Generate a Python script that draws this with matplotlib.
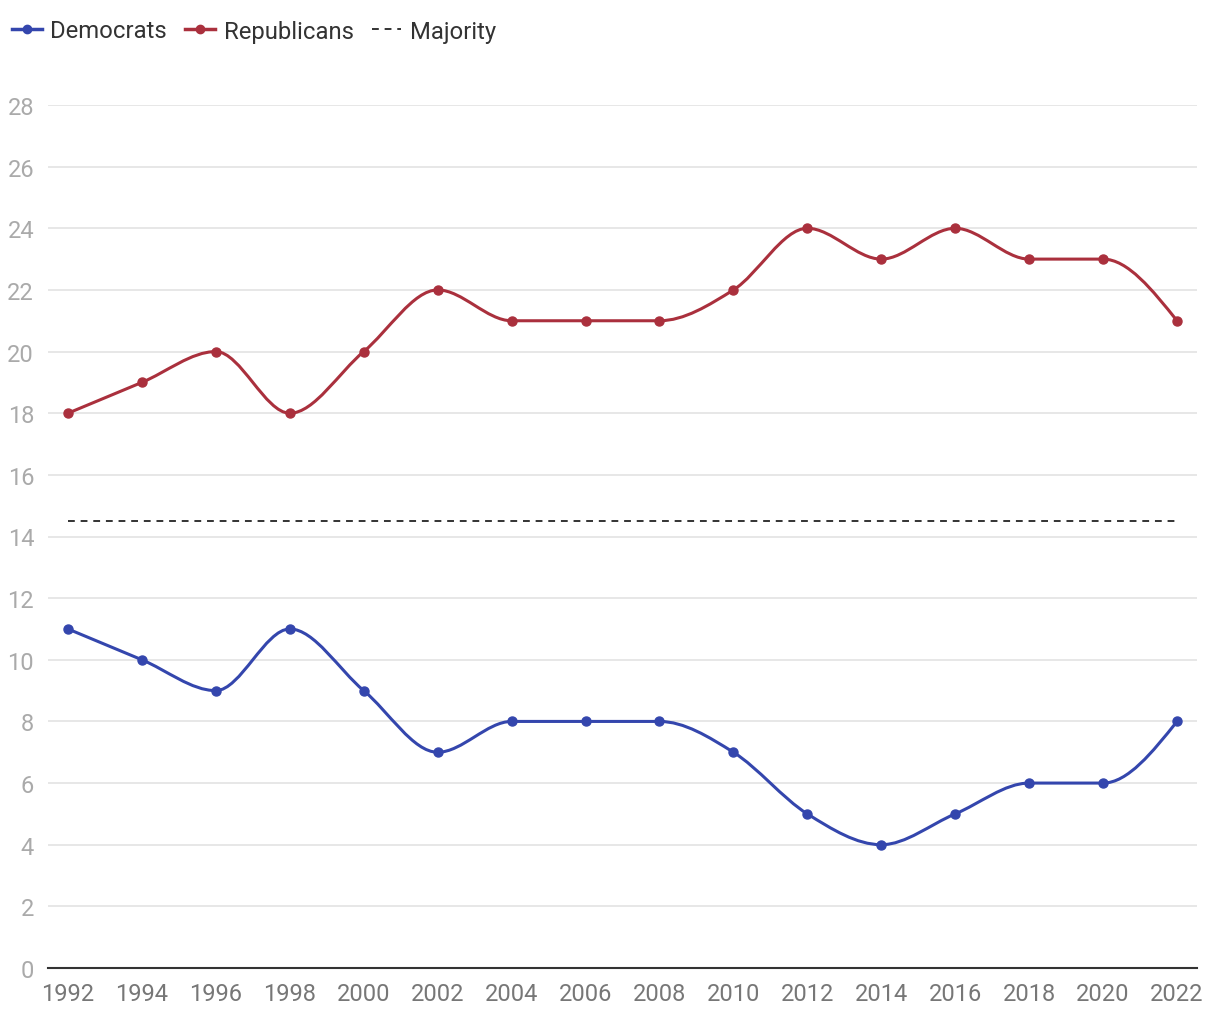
import numpy as np
import matplotlib.pyplot as plt
from matplotlib.path import Path
from matplotlib.patches import PathPatch
from matplotlib.lines import Line2D

plt.rcParams['font.family'] = ['Roboto', 'DejaVu Sans']

# data
years = [1992, 1994, 1996, 1998, 2000, 2002, 2004, 2006, 2008, 2010,
         2012, 2014, 2016, 2018, 2020, 2022]
democrats = [11, 10, 9, 11, 9, 7, 8, 8, 8, 7, 5, 4, 5, 6, 6, 8]
republicans = [18, 19, 20, 18, 20, 22, 21, 21, 21, 22, 24, 23, 24, 23, 23, 21]
majority = 14.5

blue = '#3446ad'
red = '#aa303d'


def monotone_path(x, y):
    # same idea as d3 curveMonotoneX: cubic bezier segments with monotone slopes
    x = np.asarray(x, float)
    y = np.asarray(y, float)
    n = len(x)
    h = np.diff(x)
    s = np.diff(y) / h
    t = np.zeros(n)
    for i in range(1, n - 1):
        p = (s[i - 1] * h[i] + s[i] * h[i - 1]) / (h[i - 1] + h[i])
        t[i] = (np.sign(s[i - 1]) + np.sign(s[i])) * min(abs(s[i - 1]), abs(s[i]), 0.5 * abs(p))
    t[0] = (3 * s[0] - t[1]) / 2
    t[-1] = (3 * s[-1] - t[-2]) / 2
    verts = [(x[0], y[0])]
    codes = [Path.MOVETO]
    for i in range(n - 1):
        dx = h[i] / 3
        verts += [(x[i] + dx, y[i] + dx * t[i]),
                  (x[i + 1] - dx, y[i + 1] - dx * t[i + 1]),
                  (x[i + 1], y[i + 1])]
        codes += [Path.CURVE4] * 3
    return Path(verts, codes)


fig = plt.figure(figsize=(12.2, 10.2), dpi=100)
ax = fig.add_axes([48 / 1220, 51 / 1020, 1149 / 1220, 863 / 1020])

for vals, col in [(democrats, blue), (republicans, red)]:
    ax.add_patch(PathPatch(monotone_path(years, vals), fill=False,
                           edgecolor=col, lw=2.2, zorder=3))
    ax.plot(years, vals, 'o', color=col, ms=6.5, zorder=4)

ax.plot([years[0], years[-1]], [majority, majority], color='#333333',
        lw=1.4, dashes=(3.5, 3), zorder=2)

ax.set_xlim(1991.46, 2022.54)
ax.set_ylim(0, 28)
ax.set_xticks(years)
ax.set_yticks(range(0, 29, 2))
ax.grid(axis='y', color='#e3e3e3', lw=1.2)
ax.set_axisbelow(True)
for side in ['top', 'right', 'left']:
    ax.spines[side].set_visible(False)
ax.spines['bottom'].set_color('#333333')
ax.spines['bottom'].set_linewidth(1.5)
ax.spines['bottom'].set_zorder(5)
ax.tick_params(axis='both', length=0, labelsize=17)
ax.tick_params(axis='y', colors='#aaaaaa', pad=10)
ax.tick_params(axis='x', colors='#777777', pad=10)

handles = [
    Line2D([], [], color=blue, lw=2.5, marker='o', ms=6),
    Line2D([], [], color=red, lw=2.5, marker='o', ms=6),
    Line2D([], [], color='#333333', lw=1.4, dashes=(3.5, 3)),
]
fig.legend(handles, ['Democrats', 'Republicans', 'Majority'], loc='center left',
           bbox_to_anchor=(12 / 1220, 1 - 32 / 1020), ncol=3, frameon=False,
           fontsize=17.2, borderpad=0, borderaxespad=0,
           handlelength=1.25, handletextpad=0.36, columnspacing=0.75,
           labelcolor='#333333')

fig.savefig('out.png', dpi=100, facecolor='white')
